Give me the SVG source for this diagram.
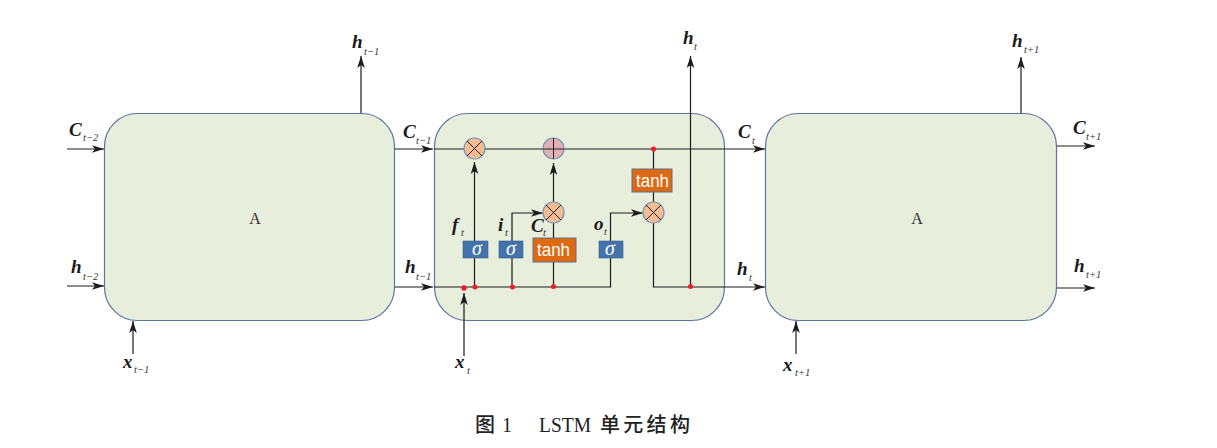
<svg xmlns="http://www.w3.org/2000/svg" width="1217" height="448" viewBox="0 0 1217 448">
<style>
.box{fill:#e7eedc;stroke:#5a74a4;stroke-width:1.2}
.w{fill:none;stroke:#1c1c1c;stroke-width:1.2}
.dot{fill:#ee1c25}
.op{fill:#f3bd91;stroke:#7b93b5;stroke-width:1.2}
.x{fill:none;stroke:#222;stroke-width:1}
.sig{fill:#4473ac;stroke:#3a5f90;stroke-width:.6}
.tanh{fill:#dd6a12;stroke:#5c6f8c;stroke-width:1}
.wt{fill:#fff;text-anchor:middle;font-family:"Liberation Sans",sans-serif;font-size:18px}
.sg{fill:#fff;text-anchor:middle;font-family:"Liberation Serif",serif;font-style:italic;font-size:20px}
.m{fill:#1a1a1a;font-family:"Liberation Serif",serif;font-style:italic;font-weight:bold;font-size:19px}
.s{fill:#333;font-family:"Liberation Serif",serif;font-style:italic;font-size:10.500px}
.a{fill:#333;font-family:"Liberation Serif",serif;font-size:16px;text-anchor:middle}
.cj{font-family:"Noto Sans CJK SC",sans-serif;font-size:20px;font-weight:500;fill:#222}
.cl{font-family:"Liberation Serif",serif;font-size:20px;fill:#222}
</style>
<defs>
<marker id="ar" markerUnits="userSpaceOnUse" markerWidth="13" markerHeight="10" refX="12" refY="5" orient="auto"><path d="M0,1.200 L12,5 L0,8.800 L3,5Z" fill="#1c1c1c"/></marker>
</defs>
<g id="cell-left"><rect class="box" x="104.500" y="113.500" width="290" height="207" rx="33"/><text class="a" x="255" y="224">A</text></g>
<g id="cell-mid"><rect class="box" x="434.500" y="113.500" width="290" height="207" rx="33"/></g>
<g id="cell-right"><rect class="box" x="765.500" y="113.500" width="291" height="207" rx="33"/><text class="a" x="917" y="224">A</text></g>
<g id="connectors">
<path class="w" d="M67 149H104" marker-end="url(#ar)"/>
<path class="w" d="M67 286H104" marker-end="url(#ar)"/>
<path class="w" d="M133 354V321" stroke="#555" marker-end="url(#ar)"/>
<path class="w" d="M361 113V56" marker-end="url(#ar)"/>
<path class="w" d="M395 149H433" marker-end="url(#ar)"/>
<path class="w" d="M395 287H433" marker-end="url(#ar)"/>
<path class="w" d="M434 149H765" marker-end="url(#ar)"/>
<path class="w" d="M434 287H610.500V213H643" marker-end="url(#ar)"/>
<path class="w" d="M653.500 223V287H765" marker-end="url(#ar)"/>
<path class="w" d="M690.500 287V56" marker-end="url(#ar)"/>
<path class="w" d="M464 356V293" marker-end="url(#ar)"/>
<path class="w" d="M474.500 287V162" marker-end="url(#ar)"/>
<path class="w" d="M512 287V213H543" marker-end="url(#ar)"/>
<path class="w" d="M553.500 287V222"/>
<path class="w" d="M553.500 202V163" marker-end="url(#ar)"/>
<path class="w" d="M653.500 149V202"/>
<path class="w" d="M796 354V321" marker-end="url(#ar)"/>
<path class="w" d="M1021 113V57" marker-end="url(#ar)"/>
<path class="w" d="M1057 146H1095" marker-end="url(#ar)"/>
<path class="w" d="M1057 288H1095" marker-end="url(#ar)"/>
</g>
<g id="dots">
<circle class="dot" cx="464" cy="288" r="2.700"/><circle class="dot" cx="475" cy="287" r="2.500"/><circle class="dot" cx="512.500" cy="287" r="2.500"/><circle class="dot" cx="553.500" cy="286.500" r="2.500"/><circle class="dot" cx="690.500" cy="286.500" r="2.500"/><circle class="dot" cx="653.500" cy="149" r="2.500"/>
</g>
<g id="forget-gate"><circle class="op" cx="474.500" cy="148.500" r="10.500"/><path class="x" d="M467 141L482 156M482 141L467 156"/></g>
<g id="add-op"><circle cx="553.500" cy="148.500" r="10.500" fill="#e2b1b8" stroke="#7b93b5" stroke-width="1.200"/><path class="x" d="M553.500 138V159M543 149H564"/></g>
<g id="input-gate"><circle class="op" cx="553.500" cy="212.500" r="10.500"/><path class="x" d="M546 205L561 220M561 205L546 220"/></g>
<g id="output-gate"><circle class="op" cx="653.500" cy="212.500" r="10.500"/><path class="x" d="M646 205L661 220M661 205L646 220"/></g>
<g id="sigma-f"><rect class="sig" x="463" y="241" width="25" height="17"/><text class="sg" x="477" y="255">σ</text></g>
<g id="sigma-i"><rect class="sig" x="499" y="241" width="24" height="17"/><text class="sg" x="511" y="255">σ</text></g>
<g id="sigma-o"><rect class="sig" x="599" y="241" width="24" height="17"/><text class="sg" x="610" y="255">σ</text></g>
<g id="tanh-c"><rect class="tanh" x="533" y="238" width="43" height="24"/><text class="wt" x="553.500" y="256" textLength="33" lengthAdjust="spacingAndGlyphs">tanh</text></g>
<g id="tanh-o"><rect class="tanh" x="632" y="169" width="40" height="23"/><text class="wt" x="652.500" y="187" textLength="33" lengthAdjust="spacingAndGlyphs">tanh</text></g>
<g id="labels">
<text class="m" x="69" y="136">C</text><text class="s" x="83" y="141">t−2</text>
<text class="m" x="71" y="273">h</text><text class="s" x="83" y="280">t−2</text>
<text class="m" x="123" y="368">x</text><text class="s" x="134" y="373">t−1</text>
<text class="m" x="352" y="48">h</text><text class="s" x="364" y="55">t−1</text>
<text class="m" x="403" y="138">C</text><text class="s" x="416" y="144">t−1</text>
<text class="m" x="405" y="273">h</text><text class="s" x="416" y="280">t−1</text>
<text class="m" x="455" y="368">x</text><text class="s" x="467" y="374">t</text>
<text class="m" x="452" y="231">f</text><text class="s" x="461" y="236">t</text>
<text class="m" x="498" y="231">i</text><text class="s" x="505" y="236">t</text>
<text class="m" x="531" y="232">C</text><text class="s" x="543" y="236">t</text>
<text class="m" x="594" y="230">o</text><text class="s" x="604" y="235">t</text>
<text class="m" x="683" y="44">h</text><text class="s" x="694" y="50">t</text>
<text class="m" x="738" y="138">C</text><text class="s" x="752" y="144">t</text>
<text class="m" x="737" y="275">h</text><text class="s" x="749" y="281">t</text>
<text class="m" x="783" y="371">x</text><text class="s" x="795" y="376">t+1</text>
<text class="m" x="1012" y="47">h</text><text class="s" x="1024" y="53">t+1</text>
<text class="m" x="1073" y="134">C</text><text class="s" x="1086" y="140">t+1</text>
<text class="m" x="1074" y="272">h</text><text class="s" x="1086" y="278">t+1</text>
</g>
<g id="caption">
<text class="cj" x="475" y="432">图</text>
<text class="cl" x="502" y="432">1</text>
<text class="cl" x="539" y="432" textLength="52" lengthAdjust="spacingAndGlyphs">LSTM</text>
<text class="cj" x="600" y="432" letter-spacing="3.300">单元结构</text>
</g>
</svg>
